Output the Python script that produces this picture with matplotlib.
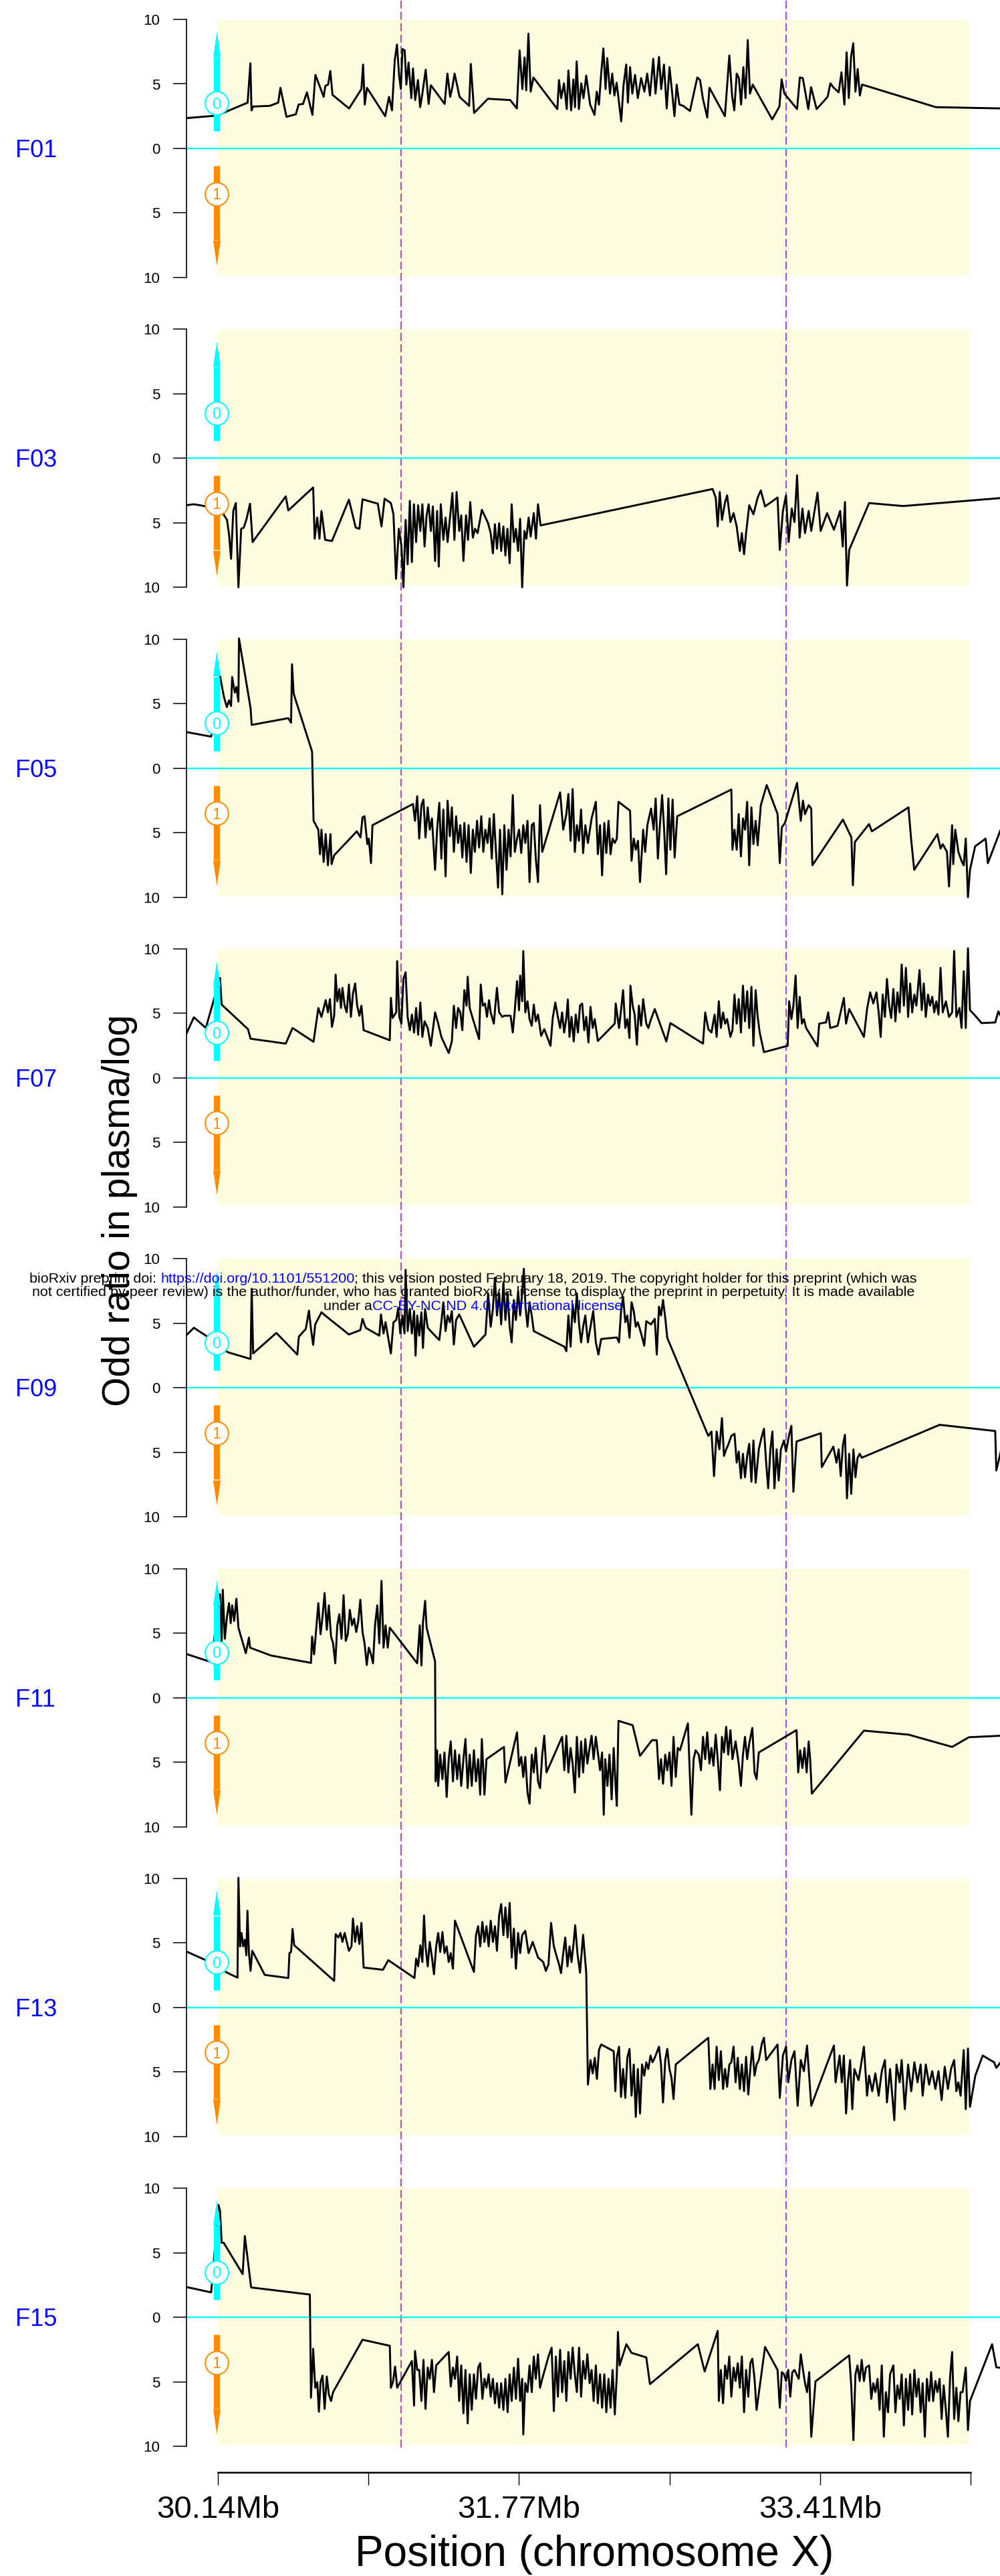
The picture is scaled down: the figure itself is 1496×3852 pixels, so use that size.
import matplotlib
matplotlib.use("Agg")
import matplotlib.pyplot as plt
from matplotlib.patches import Rectangle

plt.rcParams['font.family'] = ['Liberation Sans', 'DejaVu Sans']

# ---- data: (position in Mb, log odds ratio; >0 = allele 0, <0 = allele 1) ----
families = ['F01', 'F03', 'F05', 'F07', 'F09', 'F11', 'F13', 'F15']

f01 = [(29.969, 2.35), (30.135, 2.55), (30.301, 3.55), (30.316, 6.6), (30.322, 2.95), (30.331, 3.25),
       (30.421, 3.3), (30.467, 3.55), (30.479, 4.7), (30.512, 2.45), (30.563, 2.65), (30.578, 3.4),
       (30.602, 3.45), (30.623, 4.35), (30.653, 2.6), (30.669, 5.7), (30.714, 4.0), (30.723, 4.85),
       (30.738, 4.95), (30.750, 6.0), (30.762, 4.15), (30.852, 3.1), (30.919, 4.6), (30.928, 6.5),
       (30.937, 3.4), (30.949, 4.7), (31.048, 2.5), (31.069, 4.0), (31.085, 2.95), (31.100, 6.85),
       (31.112, 8.05), (31.124, 5.6), (31.133, 4.6), (31.142, 7.7), (31.154, 7.6), (31.163, 4.95),
       (31.175, 6.65), (31.190, 3.9), (31.199, 6.2), (31.211, 3.75), (31.226, 5.3), (31.238, 3.2),
       (31.250, 4.25), (31.268, 6.1), (31.284, 3.45), (31.296, 4.9), (31.371, 3.45), (31.386, 5.8),
       (31.401, 4.0), (31.413, 4.75), (31.425, 5.8), (31.452, 4.0), (31.504, 3.3), (31.513, 6.55),
       (31.531, 2.75), (31.606, 3.85), (31.727, 3.75), (31.763, 3.1), (31.778, 7.6), (31.793, 4.6),
       (31.805, 7.05), (31.814, 4.5), (31.826, 8.9), (31.838, 4.4), (31.853, 5.5), (31.983, 3.05),
       (31.992, 5.3), (32.004, 3.9), (32.019, 5.05), (32.034, 3.05), (32.043, 6.05), (32.058, 2.95),
       (32.070, 5.35), (32.079, 3.2), (32.088, 6.75), (32.100, 3.05), (32.113, 5.05), (32.125, 3.9),
       (32.140, 5.65), (32.161, 3.4), (32.185, 2.6), (32.197, 4.4), (32.209, 3.4), (32.221, 5.8),
       (32.233, 7.75), (32.245, 4.6), (32.254, 7.0), (32.269, 4.25), (32.281, 5.8), (32.293, 4.1),
       (32.305, 5.1), (32.330, 2.1), (32.342, 4.85), (32.357, 6.5), (32.366, 3.55), (32.378, 6.3),
       (32.390, 4.25), (32.405, 5.7), (32.420, 3.9), (32.438, 5.45), (32.456, 4.4), (32.471, 5.8),
       (32.486, 4.1), (32.504, 6.95), (32.516, 4.25), (32.535, 7.1), (32.547, 4.6), (32.562, 6.5),
       (32.577, 3.1), (32.592, 6.3), (32.607, 4.25), (32.619, 2.5), (32.631, 4.95), (32.646, 3.4),
       (32.667, 3.3), (32.703, 2.9), (32.743, 5.5), (32.758, 5.3), (32.773, 3.9), (32.797, 2.4),
       (32.809, 4.7), (32.893, 2.5), (32.908, 5.45), (32.917, 7.2), (32.932, 4.1), (32.944, 2.95),
       (32.957, 5.8), (32.969, 5.45), (32.981, 3.4), (32.993, 6.3), (33.005, 3.9), (33.017, 8.4),
       (33.029, 4.25), (33.044, 4.95), (33.150, 2.25), (33.189, 3.25), (33.201, 5.35), (33.216, 4.25),
       (33.285, 3.05), (33.300, 5.5), (33.316, 5.45), (33.331, 4.25), (33.346, 3.05), (33.361, 4.75),
       (33.391, 3.05), (33.451, 4.0), (33.466, 5.05), (33.481, 4.75), (33.511, 4.35), (33.526, 5.9),
       (33.542, 3.4), (33.554, 7.45), (33.566, 3.9), (33.578, 7.1), (33.590, 8.15), (33.602, 4.4),
       (33.614, 6.15), (33.626, 4.1), (33.638, 4.95), (34.039, 3.2), (34.400, 3.1)]

f03 = [(29.966, -3.64), (30.009, -3.56), (30.066, -3.70), (30.166, -4.25), (30.189, -4.77), (30.200, -5.89),
       (30.211, -7.79), (30.223, -4.08), (30.237, -3.47), (30.251, -10.0), (30.266, -5.46), (30.280, -5.37),
       (30.294, -4.77), (30.314, -3.52), (30.328, -6.49), (30.508, -2.95), (30.522, -4.04), (30.657, -2.26),
       (30.665, -6.23), (30.679, -4.59), (30.691, -6.23), (30.702, -4.08), (30.722, -6.32), (30.759, -6.41),
       (30.851, -3.21), (30.888, -5.37), (30.908, -5.46), (30.925, -3.18), (31.008, -3.52), (31.028, -5.28),
       (31.045, -3.13), (31.079, -3.47), (31.093, -4.34), (31.107, -9.34), (31.122, -5.46), (31.136, -6.75),
       (31.147, -10.0), (31.159, -4.77), (31.170, -8.22), (31.182, -3.30), (31.193, -8.05), (31.204, -3.56),
       (31.216, -6.49), (31.227, -3.64), (31.239, -5.63), (31.250, -3.56), (31.262, -6.84), (31.273, -4.42),
       (31.284, -3.56), (31.296, -5.63), (31.307, -3.73), (31.319, -7.96), (31.330, -4.08), (31.339, -8.39),
       (31.350, -3.56), (31.364, -6.32), (31.376, -4.59), (31.387, -6.49), (31.401, -4.42), (31.413, -2.69),
       (31.424, -6.32), (31.436, -2.61), (31.450, -5.63), (31.461, -4.42), (31.473, -7.96), (31.487, -4.42),
       (31.498, -6.32), (31.510, -3.39), (31.524, -6.15), (31.536, -5.46), (31.550, -5.80), (31.573, -3.99),
       (31.607, -5.03), (31.621, -5.80), (31.633, -7.36), (31.644, -5.11), (31.655, -7.01), (31.667, -5.03),
       (31.678, -7.18), (31.690, -5.28), (31.701, -7.53), (31.712, -5.46), (31.724, -8.13), (31.735, -3.56),
       (31.747, -6.49), (31.758, -5.46), (31.770, -7.18), (31.781, -4.68), (31.792, -10.0), (31.804, -5.63),
       (31.815, -6.23), (31.827, -4.59), (31.838, -6.06), (31.855, -4.25), (31.867, -6.23), (31.878, -3.56),
       (31.892, -5.20), (32.826, -2.38), (32.843, -3.04), (32.854, -5.28), (32.865, -2.61), (32.877, -4.77),
       (32.894, -3.39), (32.905, -2.87), (32.923, -4.94), (32.940, -4.25), (32.957, -5.28), (32.974, -7.18),
       (32.985, -5.80), (32.997, -7.44), (33.008, -5.80), (33.025, -3.64), (33.048, -4.34), (33.071, -3.04),
       (33.088, -2.49), (33.111, -3.73), (33.179, -3.04), (33.191, -7.10), (33.208, -4.08), (33.225, -2.87),
       (33.239, -6.49), (33.256, -3.90), (33.271, -4.94), (33.285, -1.31), (33.299, -6.15), (33.314, -3.90),
       (33.328, -5.80), (33.348, -4.08), (33.362, -5.63), (33.396, -2.66), (33.413, -5.63), (33.448, -4.25),
       (33.485, -5.54), (33.519, -4.08), (33.533, -6.84), (33.545, -3.39), (33.556, -9.86), (33.568, -7.10),
       (33.676, -3.47), (33.861, -3.70), (34.400, -3.07)]

f05 = [(29.966, 2.80), (30.103, 2.44), (30.151, 7.15), (30.171, 5.60), (30.188, 4.73), (30.200, 5.25),
       (30.211, 4.82), (30.217, 7.06), (30.231, 5.85), (30.240, 6.29), (30.251, 5.16), (30.254, 10.05),
       (30.317, 4.65), (30.323, 3.35), (30.522, 3.87), (30.537, 3.52), (30.542, 8.05), (30.551, 5.77),
       (30.651, 1.28), (30.659, -4.08), (30.685, -4.77), (30.694, -6.67), (30.702, -4.77), (30.714, -7.27),
       (30.725, -5.11), (30.737, -7.53), (30.751, -5.11), (30.757, -7.44), (30.771, -6.75), (30.894, -4.90),
       (30.914, -5.37), (30.925, -3.82), (30.936, -3.73), (30.951, -5.89), (30.959, -5.46), (30.971, -7.36),
       (30.979, -4.42), (31.199, -2.78), (31.210, -4.08), (31.222, -2.18), (31.233, -5.46), (31.245, -2.87),
       (31.256, -2.44), (31.267, -5.37), (31.279, -3.04), (31.290, -4.77), (31.302, -3.90), (31.319, -7.88),
       (31.330, -4.77), (31.342, -2.69), (31.353, -7.01), (31.364, -3.21), (31.376, -8.39), (31.387, -2.52),
       (31.399, -5.28), (31.410, -3.04), (31.421, -6.49), (31.433, -3.73), (31.444, -5.80), (31.456, -4.42),
       (31.467, -6.93), (31.478, -4.25), (31.490, -7.27), (31.501, -4.42), (31.513, -8.13), (31.524, -4.77),
       (31.535, -6.49), (31.547, -4.08), (31.558, -6.15), (31.570, -3.73), (31.581, -6.49), (31.592, -4.77),
       (31.604, -5.80), (31.615, -3.90), (31.627, -7.01), (31.638, -3.56), (31.650, -6.49), (31.661, -9.26),
       (31.672, -4.77), (31.684, -9.78), (31.695, -4.42), (31.707, -7.88), (31.718, -4.77), (31.729, -6.84),
       (31.741, -2.09), (31.752, -6.49), (31.764, -5.46), (31.775, -4.77), (31.787, -6.58), (31.798, -4.42),
       (31.809, -5.80), (31.821, -4.08), (31.832, -8.83), (31.844, -4.42), (31.855, -4.25), (31.866, -7.01),
       (31.878, -8.83), (31.889, -2.87), (31.901, -6.49), (31.998, -1.88), (32.015, -4.77), (32.032, -3.56),
       (32.043, -2.00), (32.055, -5.63), (32.066, -1.62), (32.078, -6.49), (32.089, -4.42), (32.100, -5.63),
       (32.112, -3.21), (32.123, -6.58), (32.135, -4.42), (32.149, -5.80), (32.169, -3.90), (32.192, -2.61),
       (32.203, -6.67), (32.215, -4.42), (32.226, -8.31), (32.238, -4.25), (32.249, -6.58), (32.261, -4.08),
       (32.272, -6.67), (32.283, -5.46), (32.295, -5.80), (32.306, -5.46), (32.315, -2.61), (32.378, -3.30),
       (32.386, -7.18), (32.398, -5.46), (32.409, -6.32), (32.421, -5.63), (32.432, -8.83), (32.449, -4.77),
       (32.460, -6.49), (32.472, -4.42), (32.492, -3.13), (32.506, -4.77), (32.517, -2.35), (32.529, -7.01),
       (32.540, -4.42), (32.552, -2.09), (32.563, -4.77), (32.574, -8.22), (32.586, -2.35), (32.597, -6.32),
       (32.609, -2.44), (32.620, -6.93), (32.634, -3.73), (32.928, -1.66), (32.934, -6.32), (32.945, -4.77),
       (32.957, -6.32), (32.968, -3.56), (32.980, -6.84), (32.991, -3.90), (33.002, -4.77), (33.014, -2.61),
       (33.025, -7.53), (33.037, -3.04), (33.048, -5.89), (33.060, -4.08), (33.071, -5.98), (33.088, -2.87),
       (33.120, -1.31), (33.179, -3.56), (33.191, -7.36), (33.202, -4.59), (33.219, -4.25), (33.248, -2.87),
       (33.285, -1.14), (33.305, -4.08), (33.317, -2.52), (33.328, -3.56), (33.348, -2.87), (33.362, -3.13),
       (33.368, -7.53), (33.534, -3.99), (33.580, -5.37), (33.588, -9.08), (33.599, -5.72), (33.676, -4.34),
       (33.691, -4.90), (33.890, -3.04), (33.904, -5.46), (33.921, -7.88), (34.047, -5.11), (34.064, -6.23),
       (34.076, -5.89), (34.099, -6.49), (34.110, -9.17), (34.127, -4.42), (34.133, -7.44), (34.144, -4.77),
       (34.161, -6.49), (34.178, -7.18), (34.190, -7.53), (34.201, -5.46), (34.213, -10.0), (34.224, -7.88),
       (34.252, -6.06), (34.309, -5.46), (34.321, -7.36), (34.400, -4.42)]

f07 = [(29.966, 3.35), (30.009, 4.70), (30.074, 3.87), (30.151, 7.75), (30.160, 5.68), (30.303, 3.78),
       (30.317, 3.04), (30.508, 2.66), (30.545, 3.87), (30.659, 2.80), (30.685, 5.42), (30.702, 4.73),
       (30.725, 6.03), (30.737, 5.08), (30.748, 6.11), (30.759, 3.96), (30.771, 4.82), (30.779, 8.01),
       (30.788, 5.94), (30.799, 6.89), (30.808, 5.42), (30.816, 6.98), (30.828, 5.60), (30.839, 5.08),
       (30.851, 7.24), (30.862, 4.73), (30.873, 6.55), (30.885, 7.32), (30.896, 5.60), (30.908, 4.82),
       (30.919, 5.60), (30.931, 3.70), (31.073, 2.92), (31.079, 6.20), (31.088, 4.65), (31.108, 5.08),
       (31.113, 9.05), (31.125, 4.73), (31.136, 4.21), (31.147, 7.67), (31.159, 8.19), (31.170, 4.73),
       (31.182, 3.70), (31.193, 4.91), (31.205, 3.52), (31.216, 5.42), (31.227, 3.35), (31.239, 5.85),
       (31.250, 3.18), (31.262, 4.39), (31.279, 3.87), (31.296, 2.49), (31.319, 5.08), (31.336, 4.21),
       (31.353, 3.18), (31.393, 1.93), (31.410, 2.83), (31.421, 5.60), (31.433, 3.87), (31.444, 5.42),
       (31.456, 5.08), (31.467, 3.70), (31.478, 6.80), (31.490, 5.60), (31.496, 7.84), (31.507, 5.42),
       (31.521, 4.73), (31.558, 3.01), (31.567, 7.24), (31.578, 5.60), (31.590, 5.77), (31.601, 4.73),
       (31.612, 6.03), (31.621, 5.08), (31.638, 4.21), (31.655, 6.98), (31.667, 5.08), (31.684, 4.73),
       (31.695, 4.82), (31.729, 4.82), (31.741, 3.52), (31.752, 5.25), (31.764, 7.50), (31.775, 5.25),
       (31.781, 7.93), (31.792, 5.94), (31.798, 9.83), (31.809, 5.08), (31.821, 5.94), (31.832, 4.56),
       (31.844, 4.04), (31.855, 5.68), (31.866, 4.39), (31.878, 4.91), (31.895, 3.26), (31.912, 3.78),
       (31.946, 2.49), (31.958, 4.65), (31.972, 5.85), (31.986, 4.73), (31.998, 3.87), (32.009, 5.08),
       (32.020, 3.52), (32.032, 4.65), (32.040, 6.08), (32.049, 3.18), (32.060, 4.73), (32.072, 2.83),
       (32.083, 4.91), (32.095, 3.52), (32.106, 5.60), (32.118, 5.77), (32.129, 3.70), (32.140, 4.73),
       (32.152, 2.75), (32.163, 5.51), (32.175, 3.87), (32.186, 4.56), (32.203, 2.87), (32.295, 4.21),
       (32.300, 5.77), (32.318, 3.87), (32.329, 5.25), (32.340, 6.80), (32.352, 3.87), (32.363, 4.56),
       (32.375, 3.09), (32.380, 7.15), (32.392, 5.60), (32.403, 4.91), (32.415, 2.57), (32.426, 5.60),
       (32.438, 4.04), (32.449, 6.11), (32.466, 4.21), (32.477, 3.87), (32.492, 4.56), (32.512, 5.34),
       (32.540, 4.21), (32.575, 2.83), (32.597, 4.25), (32.774, 2.66), (32.786, 5.08), (32.803, 3.78),
       (32.820, 3.52), (32.837, 4.91), (32.848, 3.18), (32.860, 5.94), (32.871, 3.87), (32.883, 5.08),
       (32.894, 4.21), (32.905, 4.56), (32.923, 3.18), (32.934, 3.70), (32.945, 6.46), (32.957, 4.21),
       (32.968, 6.11), (32.980, 3.52), (32.991, 7.15), (33.002, 4.39), (33.014, 6.72), (33.025, 3.87),
       (33.037, 7.06), (33.048, 2.49), (33.060, 6.80), (33.071, 4.73), (33.082, 3.52), (33.105, 2.00),
       (33.234, 2.49), (33.242, 5.94), (33.254, 4.56), (33.265, 5.60), (33.277, 7.93), (33.288, 3.87),
       (33.299, 6.29), (33.311, 4.21), (33.322, 4.56), (33.334, 3.87), (33.396, 2.45), (33.405, 4.21),
       (33.442, 4.30), (33.454, 5.08), (33.465, 3.87), (33.505, 4.04), (33.539, 6.20), (33.551, 4.21),
       (33.568, 5.34), (33.648, 3.18), (33.665, 5.34), (33.682, 6.63), (33.699, 5.77), (33.716, 6.63),
       (33.728, 5.08), (33.739, 3.18), (33.750, 6.46), (33.762, 4.73), (33.773, 7.67), (33.785, 5.60),
       (33.796, 4.65), (33.808, 6.89), (33.819, 4.39), (33.830, 6.63), (33.842, 5.08), (33.853, 8.79),
       (33.865, 5.60), (33.876, 8.53), (33.888, 4.73), (33.899, 7.32), (33.910, 5.08), (33.922, 6.46),
       (33.933, 5.60), (33.950, 8.36), (33.962, 5.25), (33.973, 7.32), (33.984, 4.73), (33.996, 6.46),
       (34.007, 5.60), (34.019, 6.29), (34.030, 5.08), (34.041, 5.94), (34.053, 4.91), (34.064, 8.53),
       (34.076, 5.08), (34.093, 5.94), (34.110, 4.73), (34.127, 5.08), (34.138, 9.83), (34.150, 4.73),
       (34.167, 5.42), (34.178, 3.87), (34.190, 8.27), (34.201, 3.87), (34.213, 10.05), (34.224, 5.25),
       (34.247, 4.91), (34.287, 4.25), (34.361, 4.30), (34.378, 5.16), (34.400, 4.56)]

f09 = [(29.966, 4.04), (30.009, 4.65), (30.074, 4.04), (30.194, 2.75), (30.317, 2.23), (30.323, 7.67),
       (30.331, 2.66), (30.457, 4.25), (30.571, 2.57), (30.579, 3.96), (30.617, 4.56), (30.634, 5.98),
       (30.645, 4.56), (30.657, 3.32), (30.668, 4.91), (30.702, 5.85), (30.722, 5.60), (30.851, 4.13),
       (30.913, 4.47), (30.925, 5.34), (30.942, 4.65), (31.016, 4.04), (31.025, 5.68), (31.039, 4.21),
       (31.050, 5.08), (31.079, 2.66), (31.093, 5.08), (31.108, 5.25), (31.119, 6.20), (31.130, 4.21),
       (31.142, 5.60), (31.153, 4.21), (31.159, 9.14), (31.170, 4.39), (31.182, 6.11), (31.193, 4.21),
       (31.205, 5.94), (31.213, 2.49), (31.222, 5.60), (31.233, 4.04), (31.245, 5.85), (31.253, 3.09),
       (31.265, 6.11), (31.279, 4.65), (31.307, 4.21), (31.342, 3.70), (31.353, 5.08), (31.364, 6.63),
       (31.376, 4.39), (31.387, 5.60), (31.399, 5.08), (31.410, 5.94), (31.421, 3.35), (31.433, 5.25),
       (31.450, 5.68), (31.530, 3.18), (31.593, 4.13), (31.607, 7.32), (31.621, 4.73), (31.633, 6.11),
       (31.644, 8.53), (31.655, 5.60), (31.667, 7.32), (31.678, 4.91), (31.690, 8.19), (31.701, 5.25),
       (31.713, 7.32), (31.724, 4.73), (31.735, 3.52), (31.747, 6.80), (31.758, 5.25), (31.770, 7.50),
       (31.781, 5.60), (31.792, 7.32), (31.801, 9.22), (31.810, 6.29), (31.821, 4.73), (31.832, 6.63),
       (31.844, 5.60), (31.855, 4.39), (32.021, 3.18), (32.032, 2.83), (32.043, 5.60), (32.055, 3.18),
       (32.066, 6.46), (32.078, 5.08), (32.089, 7.32), (32.101, 4.91), (32.112, 3.52), (32.123, 4.73),
       (32.135, 5.60), (32.149, 3.52), (32.163, 4.73), (32.178, 5.94), (32.192, 3.52), (32.206, 2.57),
       (32.221, 3.78), (32.306, 3.90), (32.318, 3.52), (32.329, 5.94), (32.340, 7.06), (32.352, 5.08),
       (32.363, 5.60), (32.375, 3.87), (32.386, 6.63), (32.398, 5.94), (32.409, 4.73), (32.420, 5.08),
       (32.438, 4.21), (32.455, 3.26), (32.466, 5.16), (32.492, 4.91), (32.512, 5.34), (32.523, 2.57),
       (32.535, 6.29), (32.546, 5.60), (32.557, 6.80), (32.569, 5.42), (32.580, 3.87), (32.803, -3.73),
       (32.820, -3.39), (32.834, -6.84), (32.848, -3.39), (32.863, -4.77), (32.877, -2.35), (32.888, -5.28),
       (32.900, -4.77), (32.911, -4.42), (32.928, -3.73), (32.945, -3.56), (32.957, -5.80), (32.968, -4.94),
       (32.980, -7.01), (32.991, -5.11), (33.002, -6.93), (33.014, -5.28), (33.025, -4.34), (33.037, -7.27),
       (33.048, -4.08), (33.060, -7.36), (33.077, -4.77), (33.091, -3.90), (33.105, -3.18), (33.117, -5.80),
       (33.128, -7.79), (33.140, -4.77), (33.151, -3.39), (33.162, -7.79), (33.174, -4.77), (33.185, -7.18),
       (33.197, -4.77), (33.214, -4.08), (33.225, -4.94), (33.242, -3.64), (33.254, -2.95), (33.265, -8.05),
       (33.282, -4.16), (33.414, -3.52), (33.419, -6.15), (33.482, -4.56), (33.499, -5.80), (33.511, -4.77),
       (33.522, -6.84), (33.534, -4.42), (33.545, -3.64), (33.556, -8.57), (33.568, -5.11), (33.579, -8.22),
       (33.591, -4.77), (33.602, -6.93), (33.613, -5.46), (33.625, -5.11), (33.636, -5.42), (34.059, -2.87),
       (34.361, -3.35), (34.367, -6.41), (34.400, -4.42)]

f11 = [(29.966, 3.39), (30.103, 2.75), (30.151, 8.01), (30.160, 4.39), (30.166, 8.36), (30.177, 4.56),
       (30.189, 6.29), (30.200, 7.32), (30.209, 5.77), (30.217, 7.15), (30.228, 5.94), (30.240, 7.67),
       (30.251, 5.42), (30.291, 3.44), (30.308, 4.65), (30.314, 3.87), (30.428, 3.26), (30.645, 2.69),
       (30.651, 4.73), (30.662, 3.35), (30.674, 5.42), (30.685, 7.32), (30.697, 4.91), (30.708, 6.29),
       (30.719, 8.10), (30.731, 5.25), (30.742, 7.15), (30.754, 4.73), (30.765, 4.21), (30.777, 2.66),
       (30.788, 5.60), (30.799, 6.46), (30.811, 4.56), (30.822, 7.93), (30.834, 4.39), (30.845, 4.91),
       (30.856, 6.80), (30.868, 5.60), (30.879, 6.11), (30.891, 5.08), (30.902, 5.94), (30.913, 7.58),
       (30.925, 5.08), (30.936, 4.21), (30.948, 2.52), (30.959, 3.87), (30.971, 3.35), (30.982, 2.66),
       (30.993, 5.60), (31.005, 7.15), (31.016, 4.21), (31.028, 9.05), (31.039, 3.87), (31.050, 5.60),
       (31.062, 3.87), (31.073, 5.42), (31.222, 2.66), (31.236, 5.60), (31.245, 2.49), (31.253, 5.77),
       (31.265, 7.50), (31.273, 5.42), (31.319, 2.80), (31.322, -6.49), (31.330, -4.08), (31.336, -6.84),
       (31.347, -4.42), (31.359, -6.32), (31.370, -4.25), (31.382, -7.70), (31.393, -4.77), (31.404, -3.39),
       (31.416, -6.49), (31.427, -4.08), (31.439, -6.32), (31.450, -4.42), (31.461, -6.84), (31.473, -4.77),
       (31.484, -3.21), (31.496, -7.01), (31.507, -4.42), (31.518, -6.84), (31.530, -4.08), (31.541, -6.49),
       (31.553, -4.77), (31.564, -7.53), (31.573, -3.21), (31.587, -7.53), (31.598, -4.77), (31.693, -3.82),
       (31.701, -6.58), (31.764, -2.69), (31.775, -5.28), (31.787, -4.59), (31.798, -6.15), (31.809, -4.59),
       (31.821, -7.36), (31.832, -8.22), (31.844, -4.42), (31.855, -5.80), (31.866, -3.90), (31.878, -6.49),
       (31.889, -7.01), (31.901, -4.42), (31.912, -2.95), (31.924, -5.80), (32.009, -3.04), (32.021, -5.63),
       (32.032, -2.95), (32.043, -5.80), (32.055, -3.90), (32.066, -5.11), (32.078, -7.36), (32.089, -3.04),
       (32.101, -6.15), (32.112, -3.39), (32.123, -5.80), (32.135, -3.21), (32.146, -5.11), (32.158, -3.90),
       (32.169, -2.95), (32.180, -4.77), (32.192, -3.04), (32.203, -4.25), (32.215, -5.63), (32.226, -4.25),
       (32.235, -9.08), (32.243, -4.77), (32.255, -6.84), (32.266, -4.42), (32.278, -7.88), (32.289, -3.90),
       (32.300, -7.01), (32.306, -8.39), (32.315, -1.80), (32.392, -2.14), (32.432, -4.51), (32.497, -3.30),
       (32.523, -3.30), (32.535, -6.32), (32.546, -4.77), (32.557, -6.67), (32.569, -4.42), (32.580, -5.63),
       (32.592, -4.25), (32.603, -6.84), (32.614, -3.04), (32.626, -6.15), (32.637, -3.90), (32.649, -4.08),
       (32.692, -2.00), (32.700, -4.94), (32.711, -9.08), (32.723, -4.77), (32.734, -4.08), (32.751, -4.42),
       (32.763, -5.63), (32.774, -3.04), (32.786, -4.77), (32.797, -2.69), (32.809, -5.11), (32.820, -3.90),
       (32.831, -5.28), (32.843, -2.87), (32.854, -4.77), (32.866, -7.18), (32.877, -3.04), (32.888, -4.25),
       (32.900, -2.26), (32.911, -4.42), (32.923, -2.52), (32.934, -4.77), (32.951, -3.39), (32.968, -5.11),
       (32.980, -6.84), (32.991, -4.42), (33.002, -3.04), (33.014, -4.77), (33.025, -3.56), (33.042, -2.35),
       (33.054, -5.80), (33.065, -6.32), (33.077, -4.25), (33.282, -2.52), (33.291, -5.80), (33.302, -4.08),
       (33.314, -5.46), (33.325, -3.90), (33.337, -5.80), (33.348, -3.39), (33.356, -4.77), (33.365, -7.44),
       (33.648, -2.56), (33.890, -2.87), (34.127, -3.82), (34.218, -3.07), (34.400, -2.95)]

f13 = [(29.966, 4.35), (30.074, 3.66), (30.194, 2.66), (30.246, 2.31), (30.251, 10.05), (30.260, 4.73),
       (30.268, 5.77), (30.277, 4.73), (30.286, 5.25), (30.294, 4.04), (30.300, 7.50), (30.308, 4.21),
       (30.317, 2.83), (30.326, 4.39), (30.394, 2.52), (30.522, 2.28), (30.528, 4.21), (30.537, 4.30),
       (30.545, 6.08), (30.554, 4.82), (30.771, 2.06), (30.779, 5.68), (30.794, 5.42), (30.805, 5.77),
       (30.816, 5.08), (30.828, 5.77), (30.851, 4.39), (30.865, 4.73), (30.873, 6.89), (30.885, 5.08),
       (30.896, 6.29), (30.908, 4.91), (30.919, 6.55), (30.931, 3.09), (31.036, 2.92), (31.065, 3.66),
       (31.207, 2.28), (31.216, 3.78), (31.227, 3.18), (31.239, 4.82), (31.250, 3.52), (31.259, 7.12),
       (31.267, 4.73), (31.279, 3.18), (31.290, 5.08), (31.302, 3.87), (31.313, 2.57), (31.325, 4.73),
       (31.336, 5.77), (31.347, 4.30), (31.359, 5.85), (31.370, 4.21), (31.382, 4.73), (31.393, 3.52),
       (31.404, 4.21), (31.416, 3.01), (31.427, 6.72), (31.530, 2.75), (31.541, 5.60), (31.553, 6.29),
       (31.564, 4.73), (31.576, 6.63), (31.587, 5.08), (31.598, 6.29), (31.610, 4.73), (31.621, 6.72),
       (31.633, 5.08), (31.644, 6.29), (31.655, 4.39), (31.667, 7.15), (31.678, 8.01), (31.690, 5.60),
       (31.701, 7.75), (31.713, 5.42), (31.724, 8.10), (31.735, 3.87), (31.747, 6.11), (31.758, 3.01),
       (31.770, 5.77), (31.781, 4.21), (31.792, 5.60), (31.809, 5.94), (31.827, 4.21), (31.849, 5.08),
       (31.878, 3.87), (31.906, 3.52), (31.921, 2.83), (31.935, 3.35), (31.949, 6.55), (31.964, 4.73),
       (31.981, 3.87), (31.992, 3.35), (32.003, 2.66), (32.015, 4.21), (32.026, 5.42), (32.038, 3.18),
       (32.049, 4.73), (32.060, 3.52), (32.072, 5.08), (32.080, 6.37), (32.092, 4.21), (32.106, 2.69),
       (32.123, 5.63), (32.140, 2.66), (32.149, -5.98), (32.163, -4.08), (32.175, -5.11), (32.186, -3.90),
       (32.198, -5.54), (32.209, -3.30), (32.221, -2.87), (32.289, -3.39), (32.298, -6.49), (32.306, -3.90),
       (32.318, -3.04), (32.329, -6.93), (32.340, -4.77), (32.352, -7.01), (32.363, -3.90), (32.375, -3.21),
       (32.386, -6.84), (32.398, -4.42), (32.409, -8.48), (32.420, -4.77), (32.432, -8.22), (32.443, -4.42),
       (32.455, -5.28), (32.466, -4.25), (32.477, -4.77), (32.489, -3.73), (32.500, -4.25), (32.512, -3.90),
       (32.535, -3.04), (32.546, -4.42), (32.557, -7.36), (32.569, -4.08), (32.580, -3.21), (32.592, -4.77),
       (32.603, -5.46), (32.614, -7.10), (32.626, -4.42), (32.803, -2.35), (32.814, -6.32), (32.826, -4.42),
       (32.837, -6.32), (32.848, -3.04), (32.860, -5.63), (32.871, -3.39), (32.883, -6.32), (32.894, -4.77),
       (32.905, -6.15), (32.917, -4.42), (32.928, -4.25), (32.940, -3.04), (32.951, -5.80), (32.963, -3.90),
       (32.974, -6.32), (32.985, -4.42), (32.997, -6.49), (33.008, -3.82), (33.020, -6.75), (33.031, -4.77),
       (33.042, -3.04), (33.054, -5.28), (33.065, -4.42), (33.077, -4.08), (33.094, -2.78), (33.105, -2.35),
       (33.117, -4.08), (33.179, -2.87), (33.191, -7.01), (33.208, -3.73), (33.225, -3.04), (33.237, -5.80),
       (33.254, -4.08), (33.271, -3.39), (33.288, -7.62), (33.305, -4.08), (33.322, -4.94), (33.339, -2.95),
       (33.362, -7.62), (33.485, -2.95), (33.494, -5.80), (33.505, -4.77), (33.516, -3.73), (33.528, -5.80),
       (33.539, -3.73), (33.551, -8.22), (33.562, -5.63), (33.573, -4.08), (33.585, -7.88), (33.596, -4.77),
       (33.619, -5.63), (33.648, -3.04), (33.665, -6.84), (33.676, -5.28), (33.693, -6.49), (33.710, -5.11),
       (33.728, -6.84), (33.745, -4.94), (33.762, -4.08), (33.773, -7.36), (33.790, -4.77), (33.813, -8.74),
       (33.825, -4.42), (33.842, -5.80), (33.853, -4.08), (33.870, -7.88), (33.888, -4.42), (33.905, -6.49),
       (33.922, -4.25), (33.939, -5.80), (33.956, -4.42), (33.967, -6.84), (33.984, -4.42), (34.002, -5.98),
       (34.019, -4.94), (34.036, -6.32), (34.053, -4.94), (34.070, -7.18), (34.087, -4.59), (34.104, -6.32),
       (34.121, -4.77), (34.138, -4.08), (34.150, -6.49), (34.161, -5.80), (34.173, -6.84), (34.190, -3.30),
       (34.201, -7.88), (34.213, -3.18), (34.224, -7.70), (34.253, -5.28), (34.293, -3.73), (34.355, -4.25),
       (34.367, -4.68), (34.400, -4.08)]

f15 = [(29.966, 2.35), (30.103, 1.93), (30.143, 8.70), (30.151, 8.27), (30.160, 5.77), (30.171, 5.77),
       (30.274, 3.35), (30.286, 6.29), (30.320, 2.31), (30.639, 1.76), (30.645, -6.23), (30.657, -2.44),
       (30.668, -5.46), (30.679, -5.03), (30.688, -7.32), (30.697, -5.03), (30.708, -4.51), (30.719, -7.10),
       (30.731, -4.59), (30.742, -5.98), (30.754, -6.49), (30.765, -5.80), (30.925, -1.74), (31.073, -2.21),
       (31.079, -5.46), (31.090, -5.03), (31.102, -3.82), (31.113, -5.46), (31.193, -3.39), (31.205, -6.84),
       (31.210, -2.61), (31.222, -4.08), (31.233, -4.08), (31.245, -6.49), (31.256, -3.30), (31.267, -7.10),
       (31.279, -3.90), (31.290, -4.77), (31.302, -3.30), (31.313, -5.80), (31.325, -3.73), (31.393, -2.69),
       (31.404, -5.37), (31.416, -3.90), (31.427, -4.77), (31.439, -3.04), (31.450, -6.49), (31.461, -3.73),
       (31.473, -7.44), (31.484, -4.08), (31.496, -8.22), (31.507, -4.42), (31.518, -7.18), (31.530, -4.42),
       (31.541, -6.32), (31.553, -3.90), (31.564, -3.56), (31.576, -6.32), (31.587, -4.77), (31.598, -5.46),
       (31.610, -4.42), (31.621, -6.15), (31.633, -4.77), (31.644, -6.67), (31.655, -5.11), (31.667, -7.01),
       (31.678, -5.11), (31.690, -7.18), (31.701, -4.77), (31.713, -7.36), (31.724, -4.42), (31.735, -6.49),
       (31.747, -3.90), (31.758, -6.32), (31.770, -3.21), (31.781, -6.49), (31.792, -4.77), (31.798, -9.08),
       (31.809, -5.11), (31.821, -5.80), (31.832, -3.73), (31.844, -5.80), (31.855, -3.04), (31.866, -4.77),
       (31.878, -2.87), (31.889, -5.46), (31.901, -4.77), (31.918, -3.90), (31.935, -3.04), (31.952, -2.35),
       (31.964, -7.27), (31.975, -3.04), (31.986, -6.15), (31.998, -2.52), (32.009, -5.80), (32.021, -3.39),
       (32.032, -6.49), (32.043, -2.69), (32.055, -4.77), (32.066, -2.35), (32.078, -4.42), (32.089, -5.80),
       (32.101, -2.35), (32.112, -6.15), (32.123, -3.39), (32.135, -4.77), (32.146, -2.87), (32.158, -5.11),
       (32.169, -4.08), (32.180, -6.49), (32.192, -3.73), (32.203, -6.67), (32.215, -4.42), (32.226, -7.01),
       (32.238, -4.42), (32.249, -7.36), (32.261, -4.77), (32.272, -7.01), (32.283, -4.08), (32.295, -7.53),
       (32.306, -4.42), (32.312, -1.14), (32.321, -3.73), (32.358, -2.09), (32.386, -2.76), (32.466, -3.11),
       (32.486, -5.18), (32.746, -2.09), (32.783, -4.20), (32.854, -1.05), (32.860, -6.49), (32.871, -4.08),
       (32.883, -6.67), (32.894, -3.73), (32.905, -4.77), (32.917, -3.04), (32.928, -6.15), (32.940, -3.90),
       (32.951, -4.94), (32.963, -3.56), (32.974, -5.46), (32.985, -3.04), (32.997, -7.36), (33.008, -4.08),
       (33.020, -6.15), (33.031, -3.56), (33.042, -3.21), (33.054, -4.77), (33.065, -7.18), (33.111, -2.30),
       (33.179, -4.08), (33.191, -7.01), (33.202, -4.25), (33.214, -4.42), (33.225, -4.94), (33.237, -4.08),
       (33.248, -6.15), (33.259, -4.25), (33.271, -4.08), (33.282, -4.42), (33.294, -4.77), (33.305, -2.87),
       (33.317, -4.08), (33.328, -5.11), (33.339, -5.80), (33.351, -4.25), (33.362, -9.26), (33.385, -4.97),
       (33.568, -2.95), (33.579, -5.28), (33.591, -9.52), (33.602, -4.42), (33.613, -3.73), (33.625, -4.94),
       (33.636, -3.30), (33.648, -4.94), (33.659, -3.90), (33.676, -3.73), (33.688, -6.32), (33.699, -5.11),
       (33.710, -5.80), (33.722, -4.77), (33.733, -7.18), (33.745, -3.73), (33.756, -9.26), (33.767, -5.80),
       (33.779, -7.36), (33.790, -4.42), (33.808, -3.73), (33.819, -7.36), (33.830, -5.28), (33.842, -6.32),
       (33.853, -4.42), (33.865, -8.39), (33.876, -4.77), (33.888, -7.18), (33.899, -4.42), (33.910, -7.53),
       (33.922, -4.08), (33.933, -6.15), (33.945, -4.77), (33.956, -7.36), (33.967, -5.11), (33.979, -9.26),
       (33.990, -4.77), (34.002, -6.49), (34.013, -4.25), (34.024, -6.49), (34.036, -4.94), (34.047, -5.80),
       (34.059, -4.77), (34.070, -7.88), (34.081, -5.28), (34.093, -7.18), (34.104, -9.26), (34.116, -4.59),
       (34.127, -2.69), (34.138, -7.88), (34.150, -5.46), (34.161, -8.05), (34.173, -5.80), (34.184, -5.80),
       (34.201, -3.90), (34.213, -8.74), (34.224, -6.49), (34.344, -2.09), (34.367, -3.87), (34.400, -3.94)]

series = [f01, f03, f05, f07, f09, f11, f13, f15]

region_bounds = [31.133, 33.225]        # dashed purple lines
shade_range = [30.14, 34.22]            # light yellow band
x_ticks = [30.14, 30.9575, 31.775, 32.5925, 33.41, 34.2275]
x_tick_labels = ['30.14Mb', '', '31.77Mb', '', '33.41Mb', '']
y_ticks = [-10, -5, 0, 5, 10]
y_tick_labels = ['10', '5', '0', '5', '10']
allele_x = 30.133

# ---- layout (pixel based, figure is 1496 x 3852 at 100 dpi) ----
W, H = 1496, 3852
fig = plt.figure(figsize=(W / 100, H / 100), dpi=100)


def fy(py):
    return 1 - py / H


up_head = [(-0.15, -0.5), (0.15, -0.5), (0.0, 0.5)]
down_head = [(-0.15, 0.5), (0.15, 0.5), (0.0, -0.5)]

step = 463.3
for i, (name, data) in enumerate(zip(families, series)):
    top10 = 29 + step * i
    ax = fig.add_axes([279 / W, fy(top10 + 424.6), (W - 279) / W, 463.2 / H])
    ax.set_xlim(29.969, 34.387)
    ax.set_ylim(-12, 12)
    ax.patch.set_visible(False)

    ax.add_patch(Rectangle((shade_range[0], -9.9), shade_range[1] - shade_range[0], 19.9,
                           facecolor='#FDFDE0', edgecolor='none', zorder=0))
    ymin = 0.079 if i == len(families) - 1 else 0
    for xb in region_bounds:
        ax.axvline(xb, ymin=ymin, color='#A030F0', lw=1.3, ls=(0, (6.6, 2.8)), zorder=1)
    ax.axhline(0, color='cyan', lw=1.7, zorder=2)

    xs, ys = zip(*data)
    ax.plot(xs, ys, color='black', lw=2.1, zorder=3)

    # allele arrows and badges
    ax.plot([allele_x, allele_x], [1.35, 7.1], color='cyan', lw=6.8, solid_capstyle='butt', zorder=4)
    ax.plot([allele_x], [8.1], marker=up_head, ms=27, mfc='cyan', mec='cyan', mew=0, zorder=4)
    ax.plot([allele_x, allele_x], [-1.35, -7.1], color='darkorange', lw=6.8, solid_capstyle='butt', zorder=4)
    ax.plot([allele_x], [-8.1], marker=down_head, ms=27, mfc='darkorange', mec='darkorange', mew=0, zorder=4)
    ax.plot([allele_x], [3.5], 'o', ms=25, mfc='white', mec='cyan', mew=1.5, zorder=5)
    ax.plot([allele_x], [-3.5], 'o', ms=25, mfc='white', mec='darkorange', mew=1.5, zorder=5)
    ax.text(allele_x, 3.5, '0', color='cyan', fontsize=17, ha='center', va='center_baseline', zorder=6)
    ax.text(allele_x, -3.5, '1', color='darkorange', fontsize=17, ha='center', va='center_baseline', zorder=6)

    for s in ['top', 'right', 'bottom']:
        ax.spines[s].set_visible(False)
    ax.spines['left'].set_bounds(-10, 10)
    ax.spines['left'].set_linewidth(1.2)
    ax.set_yticks(y_ticks)
    ax.set_yticklabels(y_tick_labels)
    ax.tick_params(axis='y', length=14.4, width=1.1, pad=14, labelsize=16)

    if i == len(families) - 1:
        ax.spines['bottom'].set_visible(True)
        ax.spines['bottom'].set_bounds(x_ticks[0], x_ticks[-1])
        ax.spines['bottom'].set_linewidth(1.8)
        ax.set_xticks(x_ticks)
        ax.set_xticklabels(x_tick_labels)
        ax.tick_params(axis='x', length=13.7, width=1.0, pad=11, labelsize=34)
    else:
        ax.tick_params(axis='x', bottom=False, labelbottom=False)

    fig.text(23 / W, fy(top10 + 206), name, color='blue', fontsize=26, ha='left', va='baseline')

fig.text(889 / W, fy(3837), 'Position (chromosome X)', fontsize=46, ha='center', va='baseline')
fig.text(179 / W, fy(1810), 'Odd ratio in plasma/log', fontsize=41, rotation=90,
         ha='center', va='center')

# ---- bioRxiv stamp ----
renderer = fig.canvas.get_renderer()


def width_of(s, size):
    t = fig.text(0, 0, s, fontsize=size)
    w = t.get_window_extent(renderer).width
    t.remove()
    return w


stamp_lines = [
    (1918, [('bioRxiv preprint doi:', 'black'), (' ', None),
            ('https://doi.org/10.1101/551200', 'blue'),
            ('; this version posted February 18, 2019. The copyright holder for this preprint (which was', 'black')]),
    (1938, [('not certified by peer review) is the author/funder, who has granted bioRxiv a license to display '
             'the preprint in perpetuity. It is made available', 'black')]),
    (1959, [('under a', 'black'), ('CC-BY-NC-ND 4.0 International license', 'blue')]),
]
size = 13.0
full1 = ''.join(s for s, _ in stamp_lines[0][1])
size = size * 1325 / width_of(full1, size)
space_w = width_of('a a', size) - width_of('aa', size)

for y_px, parts in stamp_lines:
    widths = [space_w if c is None else width_of(s, size) for s, c in parts]
    x = 708 - sum(widths) / 2
    for (s, c), w in zip(parts, widths):
        if c is not None:
            fig.text(x / W, fy(y_px), s, color=c, fontsize=size, ha='left', va='baseline')
        x += w

fig.savefig('out.png', dpi=100)
